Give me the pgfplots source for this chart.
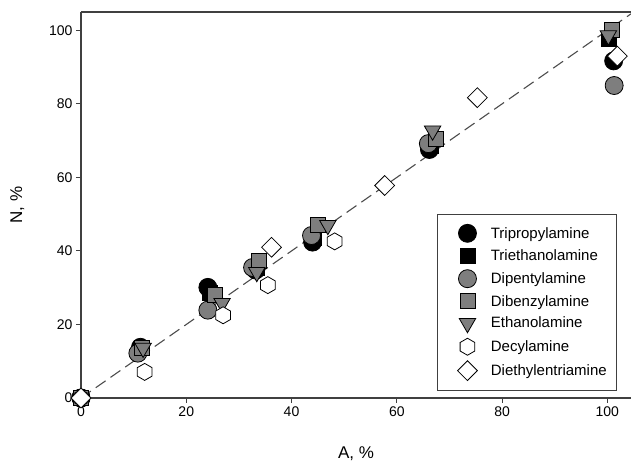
\documentclass[border=0pt]{standalone}
\usepackage{pgfplots}
\pgfplotsset{compat=1.18}
\usepackage{fontspec}
\setmainfont{Liberation Sans}
\usetikzlibrary{plotmarks}
\definecolor{mgray}{HTML}{7E7E7E}
\definecolor{axgray}{HTML}{404040}
\pgfdeclareplotmark{hexagon}{%
  \pgfpathmoveto{\pgfqpoint{0pt}{\pgfplotmarksize}}%
  \pgfpathlineto{\pgfqpoint{0.866\pgfplotmarksize}{0.5\pgfplotmarksize}}%
  \pgfpathlineto{\pgfqpoint{0.866\pgfplotmarksize}{-0.5\pgfplotmarksize}}%
  \pgfpathlineto{\pgfqpoint{0pt}{-\pgfplotmarksize}}%
  \pgfpathlineto{\pgfqpoint{-0.866\pgfplotmarksize}{-0.5\pgfplotmarksize}}%
  \pgfpathlineto{\pgfqpoint{-0.866\pgfplotmarksize}{0.5\pgfplotmarksize}}%
  \pgfpathclose
  \pgfusepathqfillstroke}
\begin{document}
\begin{tikzpicture}
\path[use as bounding box] (-81pt,-64pt) rectangle (550pt,398pt);
\begin{axis}[
  scale only axis, width=550pt, height=386pt,
  xmin=0, xmax=104.5, ymin=0, ymax=105,
  axis x line*=box, axis y line*=left,
  axis line style={axgray, line width=1.2pt},
  xtick={0,20,...,100}, ytick={0,20,...,100},
  xtick pos=bottom, ytick pos=left,
  tick align=outside, major tick length=5pt,
  tick style={axgray, line width=0.9pt},
  /pgf/number format/assume math mode=true,
  tick label style={font=\fontsize{14}{16}\selectfont},
  label style={font=\fontsize{17}{19}\selectfont},
  xlabel={A, \%}, ylabel={N, \%},
  xlabel style={at={(axis description cs:0.5,-0.143)}, anchor=center},
  ylabel style={at={(axis description cs:-0.116,0.5)}, anchor=center},
  clip=false,
  legend style={at={(axis description cs:0.975,0.018)}, anchor=south east,
    draw=axgray, line width=1pt, font=\fontsize{15}{17}\selectfont,
    row sep=5.5pt, inner xsep=8pt, inner ysep=10pt},
  legend cell align=left,
  legend image code/.code={%
    \path (0pt,0pt) (43pt,0pt);
    \draw[#1] plot coordinates {(22pt,0pt)};},
  every axis plot/.append style={line width=0.8pt},
]
\addplot[forget plot, gray!60!black, line width=1.1pt, dash pattern=on 12pt off 6pt] coordinates {(0,0) (104.5,104.5)};
\addplot[only marks, mark=*, mark size=9pt, draw=black, fill=black] coordinates {
(0,0) (11.3,13.8) (24.1,30.1) (33.2,34.8) (44.0,42.4) (66.2,67.6) (101.2,91.7)};
\addlegendentry{Tripropylamine}
\addplot[only marks, mark=square*, mark size=7.5pt, draw=black, fill=black] coordinates {
(0,0) (11.5,13.5) (24.5,28.5) (33.5,35.5) (44.2,43.5) (66.5,68.5) (100.3,97.8)};
\addlegendentry{Triethanolamine}
\addplot[only marks, mark=*, mark size=9pt, draw=black, fill=mgray] coordinates {
(0,0) (10.8,12.2) (24.1,23.9) (32.6,35.5) (43.8,44.2) (66.0,69.2) (101.3,85.0)};
\addlegendentry{Dipentylamine}
\addplot[only marks, mark=square*, mark size=7.5pt, draw=black, fill=mgray] coordinates {
(0,0) (11.5,13.6) (25.4,28.0) (33.8,37.4) (45.0,47.2) (67.5,70.5) (100.8,100.2)};
\addlegendentry{Dibenzylamine}
\addplot[only marks, mark=triangle*, mark size=9.5pt, mark options={rotate=180}, draw=black, fill=mgray] coordinates {
(0,0) (11.8,13.6) (26.8,25.8) (33.4,34.2) (46.9,47.0) (66.8,72.7) (100.2,98.6)};
\addlegendentry{Ethanolamine}
\addplot[only marks, mark=hexagon, mark size=8.5pt, draw=black, fill=white] coordinates {
(0,0) (12.1,7.1) (27.0,22.5) (35.5,30.7) (48.2,42.6)};
\addlegendentry{Decylamine}
\addplot[only marks, mark=square*, mark size=7pt, mark options={rotate=45}, draw=black, fill=white] coordinates {
(0,0) (36.2,41.0) (57.7,57.8) (75.3,81.7) (101.9,93.0)};
\addlegendentry{Diethylentriamine}
\end{axis}
\end{tikzpicture}
\end{document}
